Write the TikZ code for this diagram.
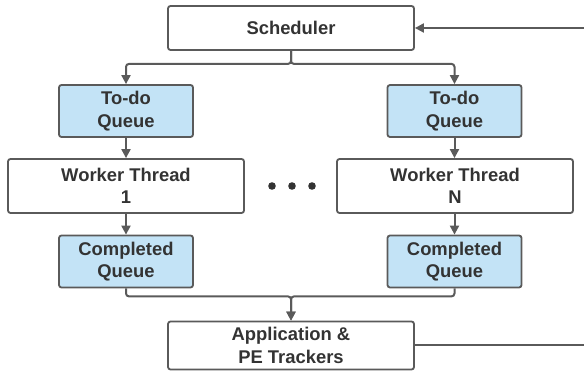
\documentclass[tikz,border=0pt]{standalone}
\usepackage{fontspec}
\setmainfont{Liberation Sans}
\usetikzlibrary{arrows.meta}

\definecolor{linegray}{HTML}{5A5A5A}
\definecolor{textgray}{HTML}{333333}
\definecolor{queueblue}{HTML}{C3E3F6}

\begin{document}
\begin{tikzpicture}[x=1pt,y=-1pt,
	box/.style={draw=linegray,line width=1.8pt,rounded corners=2.5pt,fill=white,
		text=textgray,font=\fontsize{18.4}{22.5}\selectfont\bfseries,align=center,inner sep=0pt},
	queuebox/.style={box,fill=queueblue,minimum width=134pt,minimum height=52pt},
	threadbox/.style={box,minimum width=236pt,minimum height=54pt},
	wide/.style={box,minimum width=246pt,minimum height=44pt},
	link/.style={draw=linegray,line width=2pt,rounded corners=3pt},
	tip/.style={-{Triangle[length=9pt,width=9pt]}}]
	\useasboundingbox (0,0) rectangle (584,374);

	\node[wide] (sched) at (291, 28)     {Scheduler};
	\node[queuebox] (todo1) at (126, 111)   {To-do\\Queue};
	\node[queuebox] (todoN) at (454.5, 111) {To-do\\Queue};
	\node[threadbox] (work1) at (126, 186)  {Worker Thread\\1};
	\node[threadbox] (workN) at (455, 186)  {Worker Thread\\N};
	\node[queuebox] (done1) at (126, 261.5)   {Completed\\Queue};
	\node[queuebox] (doneN) at (454.5, 261.5) {Completed\\Queue};
	\node[wide,minimum height=48pt] (app) at (291, 345.5) {Application \&\\PE Trackers};

	\foreach \x in {272,292,312}
		\fill[textgray] (\x,186) circle (3.8pt);

	\coordinate (loopin) at (584, 28);
	\coordinate (loopout) at (584, 345);

	\path[link,tip] (sched.south) -- ++(0,13) -| (todo1.north);
	\path[link,tip] (sched.south) -- ++(0,13) -| (todoN.north);
	\path[link,tip] (todo1) -- (work1);
	\path[link,tip] (todoN.south) -- (todoN.south |- workN.north);
	\path[link,tip] (work1) -- (done1);
	\path[link,tip] (workN.south -| doneN.north) -- (doneN.north);
	\path[link,tip] (done1.south) -- ++(0,8) -| (app.north);
	\path[link,tip] (doneN.south) -- ++(0,8) -| (app.north);
	\path[link] (app.east |- loopout) -- (loopout);
	\path[link,tip] (loopin) -- (sched.east);

\end{tikzpicture}
\end{document}
